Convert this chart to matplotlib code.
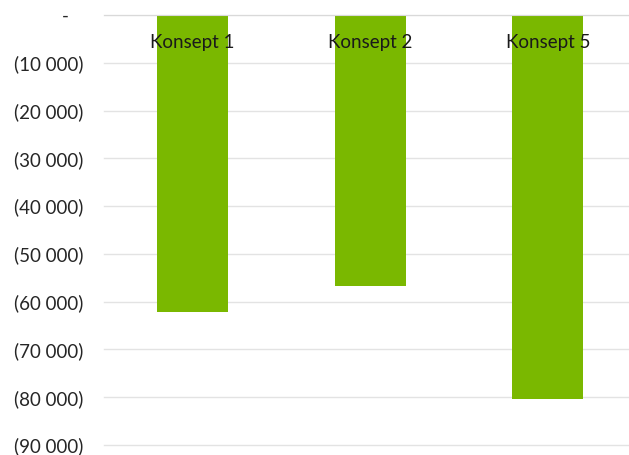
import matplotlib
matplotlib.use("Agg")
import matplotlib.pyplot as plt
from matplotlib.ticker import FuncFormatter, MultipleLocator

categories = ["Konsept 1", "Konsept 2", "Konsept 5"]
values = [-62200, -56700, -80300]
y_min, y_max, y_step = -90000, 0, 10000

bar_color = "#7AB800"
grid_color = "#E3E3E3"
font = "Lato"

fig = plt.figure(figsize=(6.29, 4.55), dpi=100)
ax = fig.add_axes([104 / 629, 1 - 445 / 455, 532.5 / 629, 430 / 455])

x = list(range(len(categories)))
ax.bar(x, values, width=0.4, color=bar_color, zorder=3)
ax.set_xlim(-0.5, len(categories) - 0.5)
ax.set_ylim(y_min, y_max)
ax.yaxis.set_major_locator(MultipleLocator(y_step))


def fmt(v, pos):
    # accounting style: zero as a dash, negatives in parentheses
    if abs(v) < 0.5:
        return "-   "
    s = f"{abs(int(round(v))):,}".replace(",", " ")
    return f"({s})" if v < 0 else s


ax.yaxis.set_major_formatter(FuncFormatter(fmt))
ax.grid(axis="y", color=grid_color, linewidth=1.0, zorder=0)
for gl in ax.get_ygridlines():
    gl.set_clip_on(False)
ax.set_xticks([])
for s in ax.spines.values():
    s.set_visible(False)
ax.axhline(0, color="#D9D9D9", linewidth=1.5, zorder=4)
ax.tick_params(axis="y", length=0, pad=15, labelsize=13.5)
for lbl in ax.get_yticklabels():
    lbl.set_fontfamily(font)
    lbl.set_color("#262626")

# category labels sit just below the zero line
for xi, name in zip(x, categories):
    ax.annotate(name, xy=(xi, 0), xytext=(0, -20), textcoords="offset points",
                ha="center", va="center", fontsize=13.5, fontfamily=font,
                color="#1a1a1a", zorder=5, annotation_clip=False)

fig.savefig("out.png", dpi=100)
